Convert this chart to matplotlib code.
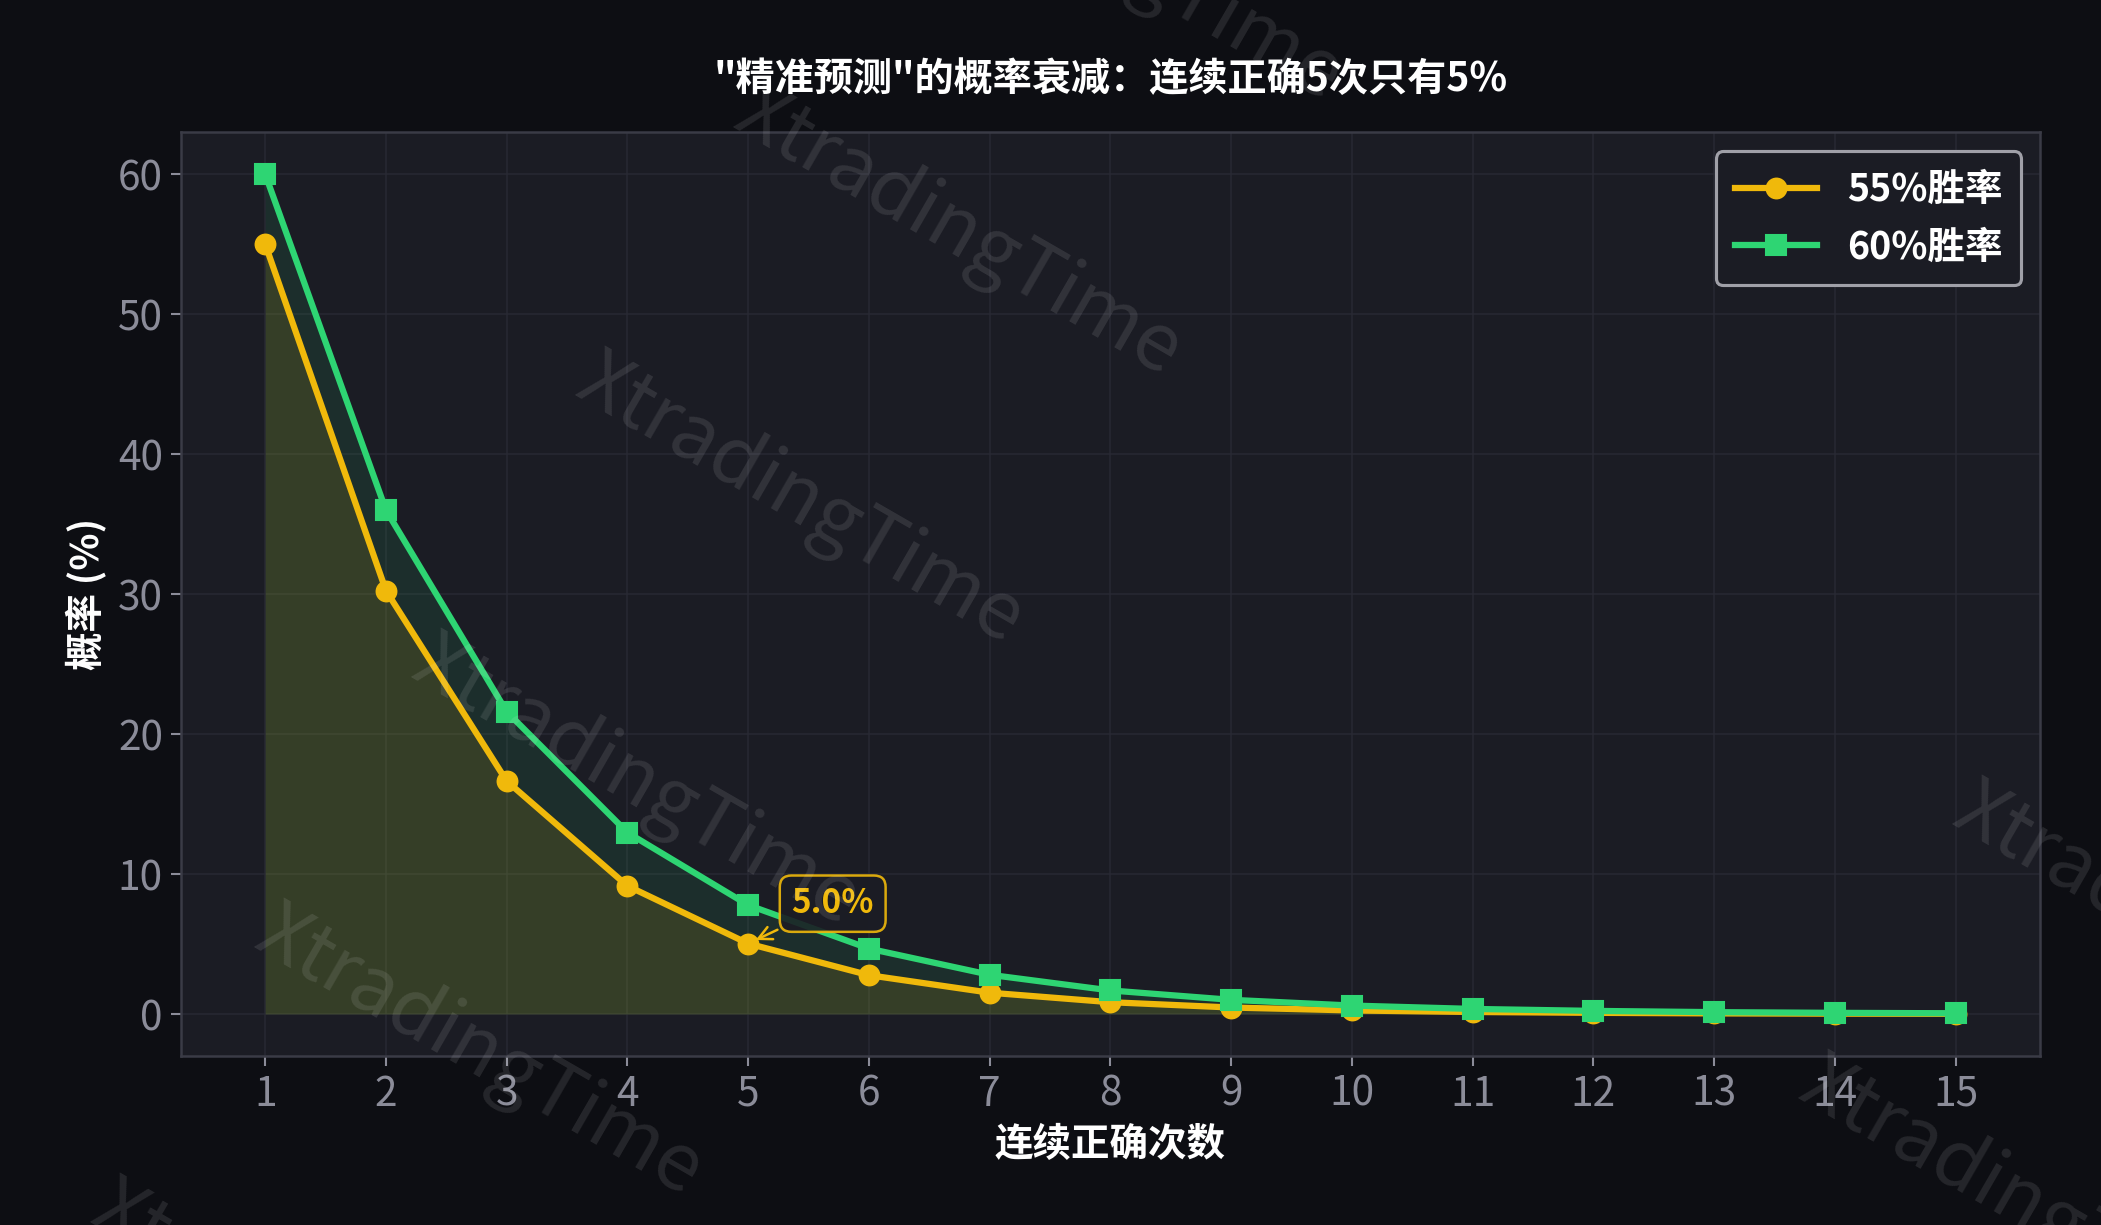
import matplotlib
matplotlib.use("Agg")
import matplotlib.pyplot as plt

plt.rcParams['font.family'] = ['Noto Sans CJK SC', 'DejaVu Sans']
plt.rcParams['axes.unicode_minus'] = False

# 数据
streak = [1, 2, 3, 4, 5, 6, 7, 8, 9, 10, 11, 12, 13, 14, 15]
p55 = [55.0, 30.25, 16.64, 9.15, 5.03, 2.77, 1.52, 0.84, 0.46, 0.25, 0.14, 0.08, 0.04, 0.02, 0.01]
p60 = [60.0, 36.0, 21.6, 12.96, 7.78, 4.67, 2.80, 1.68, 1.01, 0.60, 0.36, 0.22, 0.13, 0.08, 0.05]
labels = ['55%胜率', '60%胜率']
title = '"精准预测"的概率衰减：连续正确5次只有5%'
note_x = 5
note_y = 5.03
note_text = '5.0%'

BG = '#0d0e13'
AX_BG = '#1b1c24'
YELLOW = '#f0b90b'
GREEN = '#2ed573'
TICK = '#8b8c99'

fig = plt.figure(figsize=(14.007, 8.167), dpi=150, facecolor=BG)
ax = fig.add_axes([0.086, 0.138, 0.885, 0.754])
ax.set_facecolor(AX_BG)

# 填充 (两层叠加)
ax.fill_between(streak, 0, p60, color=GREEN, alpha=0.10, linewidth=0)
ax.fill_between(streak, 0, p55, color=YELLOW, alpha=0.12, linewidth=0)

ax.plot(streak, p55, color=YELLOW, lw=3, marker='o', ms=9.5, label=labels[0], zorder=3)
ax.plot(streak, p60, color=GREEN, lw=3, marker='s', ms=9.5, label=labels[1], zorder=4)

# 标注
ax.annotate(note_text, xy=(note_x, note_y), xytext=(note_x + 0.7, note_y + 2.85),
            color=YELLOW, fontsize=16, fontweight='bold', ha='center', va='center',
            bbox=dict(boxstyle='round,pad=0.35', fc=AX_BG, ec=YELLOW, lw=1.2, alpha=0.9),
            arrowprops=dict(arrowstyle='->', color=YELLOW, lw=1.2, shrinkB=4),
            zorder=6)

ax.set_xlim(0.3, 15.7)
ax.set_ylim(-3, 63)
ax.set_xticks(streak)
ax.set_yticks([0, 10, 20, 30, 40, 50, 60])
ax.tick_params(colors=TICK, labelsize=19.5, length=5, width=1)
for s in ax.spines.values():
    s.set_color('#3a3b46')
    s.set_linewidth(1.2)
ax.grid(True, color='#2a2b35', lw=0.8, alpha=0.8)
ax.set_axisbelow(True)

ax.set_xlabel('连续正确次数', color='white', fontsize=18.5, fontweight='bold', labelpad=5)
ax.set_ylabel('概率 (%)', color='white', fontsize=18.5, fontweight='bold', labelpad=5)
ax.set_title(title, color='white', fontsize=18.8, fontweight='bold', pad=20)

leg = ax.legend(loc='upper right', fontsize=18, facecolor=AX_BG, edgecolor='#a0a0a8',
                framealpha=1, borderpad=0.5, handlelength=2.2)
for t in leg.get_texts():
    t.set_color('white')
    t.set_fontweight('bold')
leg.get_frame().set_linewidth(1.5)

# 水印
marks = [(0.5325, 1.034), (0.456, 0.810), (0.381, 0.591), (0.303, 0.361),
         (0.228, 0.140), (0.150, -0.084), (1.036, 0.241), (0.963, 0.017)]
for mx, my in marks:
    fig.text(mx, my, 'XtradingTime', fontsize=38, color='white', alpha=0.1,
             rotation=-30, ha='center', va='center', zorder=10)

fig.savefig('out.png', dpi=150, facecolor=BG)
